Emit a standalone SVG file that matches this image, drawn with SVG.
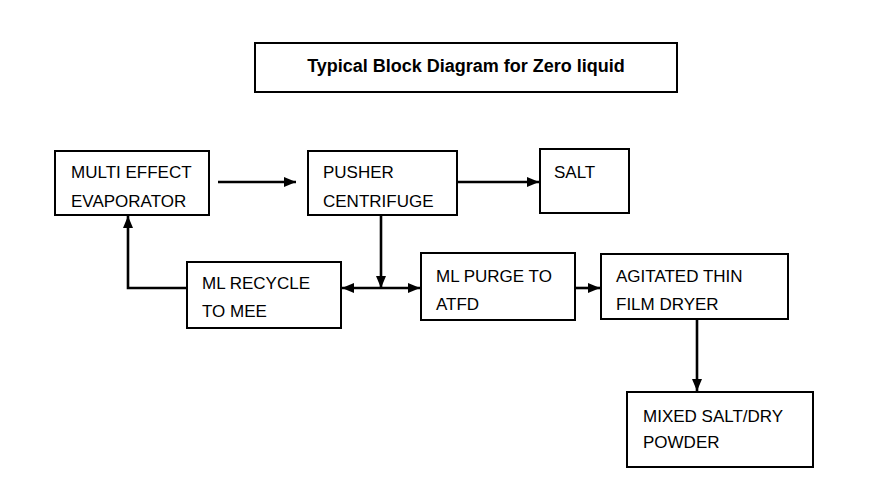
<svg xmlns="http://www.w3.org/2000/svg" width="870" height="500" viewBox="0 0 870 500">
<style>
.box{fill:#fff;stroke:#000;stroke-width:2}
.t{font-family:"Liberation Sans",Arial,sans-serif;font-size:17px;fill:#000}
.title{font-family:"Liberation Sans",Arial,sans-serif;font-size:18px;font-weight:bold;fill:#000}
.ln{fill:none;stroke:#000;stroke-width:2.6}
</style>
<defs>
<marker id="ah" markerUnits="userSpaceOnUse" markerWidth="12" markerHeight="10" refX="12" refY="5" orient="auto-start-reverse">
<path d="M0,0 L12,5 L0,10 z" fill="#000"/>
</marker>
</defs>
<rect width="870" height="500" fill="#fff"/>
<g id="title">
<rect class="box" x="255" y="43" width="422" height="49"/>
<text class="title" x="466" y="72" text-anchor="middle">Typical Block Diagram for Zero liquid</text>
</g>
<g id="mee">
<rect class="box" x="55" y="151" width="154" height="64"/>
<text class="t" x="71" y="178">MULTI EFFECT</text>
<text class="t" x="71" y="207">EVAPORATOR</text>
</g>
<g id="pusher">
<rect class="box" x="308" y="151" width="149" height="64"/>
<text class="t" x="323" y="178">PUSHER</text>
<text class="t" x="323" y="207">CENTRIFUGE</text>
</g>
<g id="salt">
<rect class="box" x="540" y="149" width="89" height="64"/>
<text class="t" x="554" y="178">SALT</text>
</g>
<g id="recycle">
<rect class="box" x="187" y="262" width="154" height="66"/>
<text class="t" x="202" y="289">ML RECYCLE</text>
<text class="t" x="202" y="317">TO MEE</text>
</g>
<g id="purge">
<rect class="box" x="421" y="253" width="154" height="67"/>
<text class="t" x="436" y="282">ML PURGE TO</text>
<text class="t" x="436" y="310">ATFD</text>
</g>
<g id="atfd">
<rect class="box" x="601" y="254" width="187" height="65"/>
<text class="t" x="616" y="282">AGITATED THIN</text>
<text class="t" x="616" y="310">FILM DRYER</text>
</g>
<g id="mixed">
<rect class="box" x="627" y="392" width="186" height="75"/>
<text class="t" x="643" y="422">MIXED SALT/DRY</text>
<text class="t" x="643" y="448">POWDER</text>
</g>
<g id="connectors">
<line class="ln" x1="218" y1="182" x2="296" y2="182" marker-end="url(#ah)"/>
<line class="ln" x1="457" y1="182" x2="539" y2="182" marker-end="url(#ah)"/>
<polyline class="ln" points="187,288 128,288 128,216" marker-end="url(#ah)"/>
<line class="ln" x1="381" y1="215" x2="381" y2="288" marker-end="url(#ah)"/>
<line class="ln" x1="342" y1="288" x2="420" y2="288" marker-start="url(#ah)" marker-end="url(#ah)"/>
<line class="ln" x1="575" y1="288" x2="600" y2="288" marker-end="url(#ah)"/>
<line class="ln" x1="697" y1="319" x2="697" y2="391" marker-end="url(#ah)"/>
</g>
</svg>
